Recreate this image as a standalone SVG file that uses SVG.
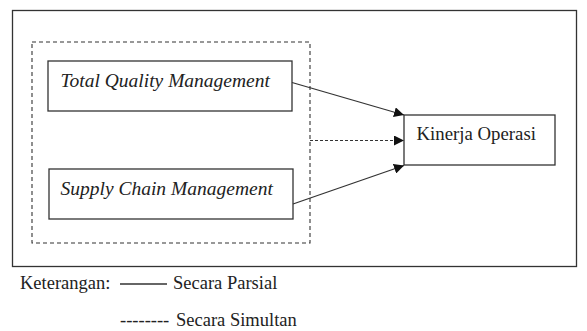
<svg xmlns="http://www.w3.org/2000/svg" width="587" height="331" viewBox="0 0 587 331">
<defs>
<style>
.box{fill:#fff;stroke:#333;stroke-width:1.3}
.dash{fill:none;stroke:#333;stroke-width:1.1;stroke-dasharray:4,3}
.ln{stroke:#333;stroke-width:1.3;fill:none}
.dl{stroke:#333;stroke-width:1.1;stroke-dasharray:3,2;fill:none}
.t{font-family:'Liberation Serif','Times New Roman',serif;font-size:18.5px;fill:#222}
.it{font-style:italic;font-size:19.5px}
</style>
<marker id="ah" viewBox="0 0 10 10" refX="10" refY="5" markerWidth="10" markerHeight="10" markerUnits="userSpaceOnUse" orient="auto">
<path d="M0,0 L10,5 L0,10 z" fill="#111"/>
</marker>
</defs>
<rect width="587" height="331" fill="#fff"/>
<rect id="frame" x="12.5" y="10.5" width="564" height="256" class="box"/>
<rect id="group" x="32" y="42" width="278" height="201" class="dash"/>
<g id="tqm">
<rect x="48" y="61" width="244" height="50" class="box"/>
<text x="60.5" y="86.5" class="t it">Total Quality Management</text>
</g>
<g id="scm">
<rect x="49" y="169" width="244" height="50" class="box"/>
<text x="60.5" y="195" class="t it">Supply Chain Management</text>
</g>
<g id="kinerja">
<rect x="404" y="115" width="151" height="50" class="box"/>
<text x="416.5" y="140" class="t" style="font-size:18.8px">Kinerja Operasi</text>
</g>
<g id="connectors">
<line x1="292" y1="82.5" x2="404" y2="115" class="ln" marker-end="url(#ah)"/>
<line x1="310" y1="140.5" x2="404" y2="140.5" class="dl" marker-end="url(#ah)"/>
<line x1="293" y1="204" x2="404" y2="165.5" class="ln" marker-end="url(#ah)"/>
</g>
<g id="legend">
<text x="20" y="289" class="t">Keterangan:</text>
<line x1="120" y1="284" x2="167" y2="284" class="ln"/>
<text x="173" y="289" class="t">Secara Parsial</text>
<text x="120" y="326" class="t">--------</text>
<text x="176" y="326" class="t">Secara Simultan</text>
</g>
</svg>
